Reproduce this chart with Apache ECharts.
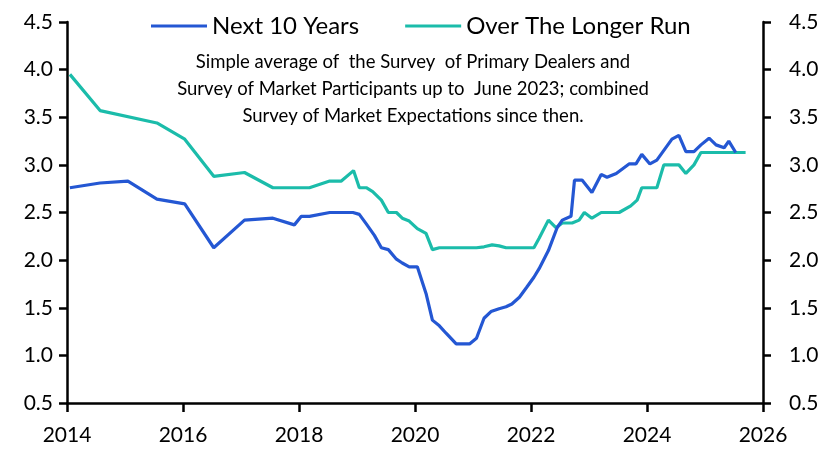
<!DOCTYPE html>
<html>
<head>
<meta charset="utf-8">
<script src="https://cdn.jsdelivr.net/npm/echarts@6/dist/echarts.min.js"></script>
<style>
html,body{margin:0;padding:0;background:#fff;}
#chart{width:837px;height:472px;}
</style>
</head>
<body>
<div id="chart"></div>
<script>
// Survey dates as decimal years
var nextDates = [2014.05,2014.57,2015.05,2015.55,2016.03,2016.53,2017.06,2017.55,2017.92,2018.04,2018.18,2018.53,2018.93,2019.04,2019.16,2019.30,2019.42,2019.54,2019.68,2019.78,2019.90,2020.04,2020.19,2020.30,2020.42,2020.54,2020.71,2020.94,2021.06,2021.19,2021.31,2021.45,2021.57,2021.67,2021.80,2021.92,2022.05,2022.14,2022.30,2022.45,2022.54,2022.69,2022.75,2022.88,2023.05,2023.21,2023.31,2023.47,2023.69,2023.81,2023.91,2024.05,2024.17,2024.43,2024.55,2024.67,2024.81,2024.93,2025.07,2025.19,2025.33,2025.41,2025.53];
var nextValues = [2.76,2.81,2.83,2.64,2.59,2.13,2.42,2.44,2.37,2.46,2.46,2.50,2.50,2.48,2.38,2.26,2.13,2.11,2.01,1.97,1.93,1.93,1.65,1.37,1.31,1.23,1.12,1.12,1.18,1.39,1.46,1.49,1.51,1.54,1.61,1.71,1.82,1.91,2.10,2.34,2.42,2.46,2.84,2.84,2.71,2.90,2.87,2.91,3.01,3.01,3.11,3.01,3.05,3.27,3.31,3.14,3.14,3.21,3.28,3.21,3.18,3.25,3.13];

var longerDates = [2014.05,2014.57,2015.55,2016.03,2016.53,2017.06,2017.55,2018.18,2018.53,2018.73,2018.94,2019.04,2019.16,2019.27,2019.42,2019.54,2019.68,2019.78,2019.90,2020.04,2020.19,2020.30,2020.42,2020.54,2020.71,2020.94,2021.06,2021.19,2021.33,2021.45,2021.57,2021.80,2022.05,2022.14,2022.30,2022.43,2022.54,2022.71,2022.83,2022.92,2023.05,2023.21,2023.52,2023.72,2023.83,2023.91,2024.17,2024.29,2024.55,2024.67,2024.81,2024.93,2025.70];
var longerValues = [3.95,3.57,3.44,3.27,2.88,2.92,2.76,2.76,2.83,2.83,2.94,2.76,2.76,2.72,2.63,2.50,2.50,2.44,2.41,2.33,2.28,2.11,2.13,2.13,2.13,2.13,2.13,2.14,2.16,2.15,2.13,2.13,2.13,2.23,2.42,2.34,2.39,2.39,2.42,2.50,2.44,2.50,2.50,2.57,2.63,2.76,2.76,3.00,3.00,2.91,3.00,3.13,3.13];

var seriesNames = ['Next 10 Years','Over The Longer Run'];
var xTicks = [2014,2016,2018,2020,2022,2024,2026];
var yMin = 0.5, yMax = 4.5, yStep = 0.5;
var noteLines = [
  'Simple average of  the Survey  of Primary Dealers and',
  'Survey of Market Participants up to  June 2023; combined',
  'Survey of Market Expectations since then.'
];

function pairs(xs, ys){ return xs.map(function(x,i){ return [x, ys[i]]; }); }

var FONT = 'Lato';
var chart = echarts.init(document.getElementById('chart'), null, {renderer:'canvas'});

var yAxisBase = function(pos){
  return {
    type:'value', position:pos, min:yMin, max:yMax, interval:yStep,
    axisLine:{show:true, lineStyle:{color:'#000', width:2.5}},
    axisTick:{show:true, inside:false, length:8, lineStyle:{color:'#000', width:2.5}},
    axisLabel:{show:true, margin: pos==='left'?14:26, color:'#000', fontSize:21, fontFamily:FONT,
      formatter:function(v){ return v.toFixed(1); }},
    splitLine:{show:false}
  };
};

chart.setOption({
  animation:false,
  backgroundColor:'#fff',
  grid:{left:67, right:74, top:22, bottom:69, containLabel:false},
  legend:{
    show:true, top:9, left:146, itemWidth:56, itemHeight:3, itemGap:46,
    icon:'rect',
    textStyle:{fontSize:24, fontFamily:FONT, color:'#000', padding:[0,0,0,0]},
    data:seriesNames
  },
  xAxis:{
    type:'value', min:xTicks[0], max:xTicks[xTicks.length-1], interval:2,
    axisLine:{show:true, onZero:false, lineStyle:{color:'#000', width:2.5}},
    axisTick:{show:true, length:9, lineStyle:{color:'#000', width:2.5}},
    axisLabel:{margin:22, color:'#000', fontSize:21, fontFamily:FONT, formatter:function(v){return String(v);}},
    splitLine:{show:false}
  },
  yAxis:[yAxisBase('left'), yAxisBase('right')],
  graphic:[{
    type:'text', x:413, y:49, z:10,
    style:{
      text:noteLines.join('\n'),
      textAlign:'center', textVerticalAlign:'top', fill:'#000', fontSize:18.5, fontFamily:FONT, lineHeight:27
    }
  }],
  series:[
    {name:seriesNames[0], type:'line', yAxisIndex:0, data:pairs(nextDates,nextValues),
     showSymbol:false, symbol:'none', lineStyle:{color:'#2457d3', width:3.2}, itemStyle:{color:'#2457d3'}, z:3},
    {name:seriesNames[1], type:'line', yAxisIndex:0, data:pairs(longerDates,longerValues),
     showSymbol:false, symbol:'none', lineStyle:{color:'#1bbcaa', width:3.2}, itemStyle:{color:'#1bbcaa'}, z:2}
  ]
});
</script>
</body>
</html>
